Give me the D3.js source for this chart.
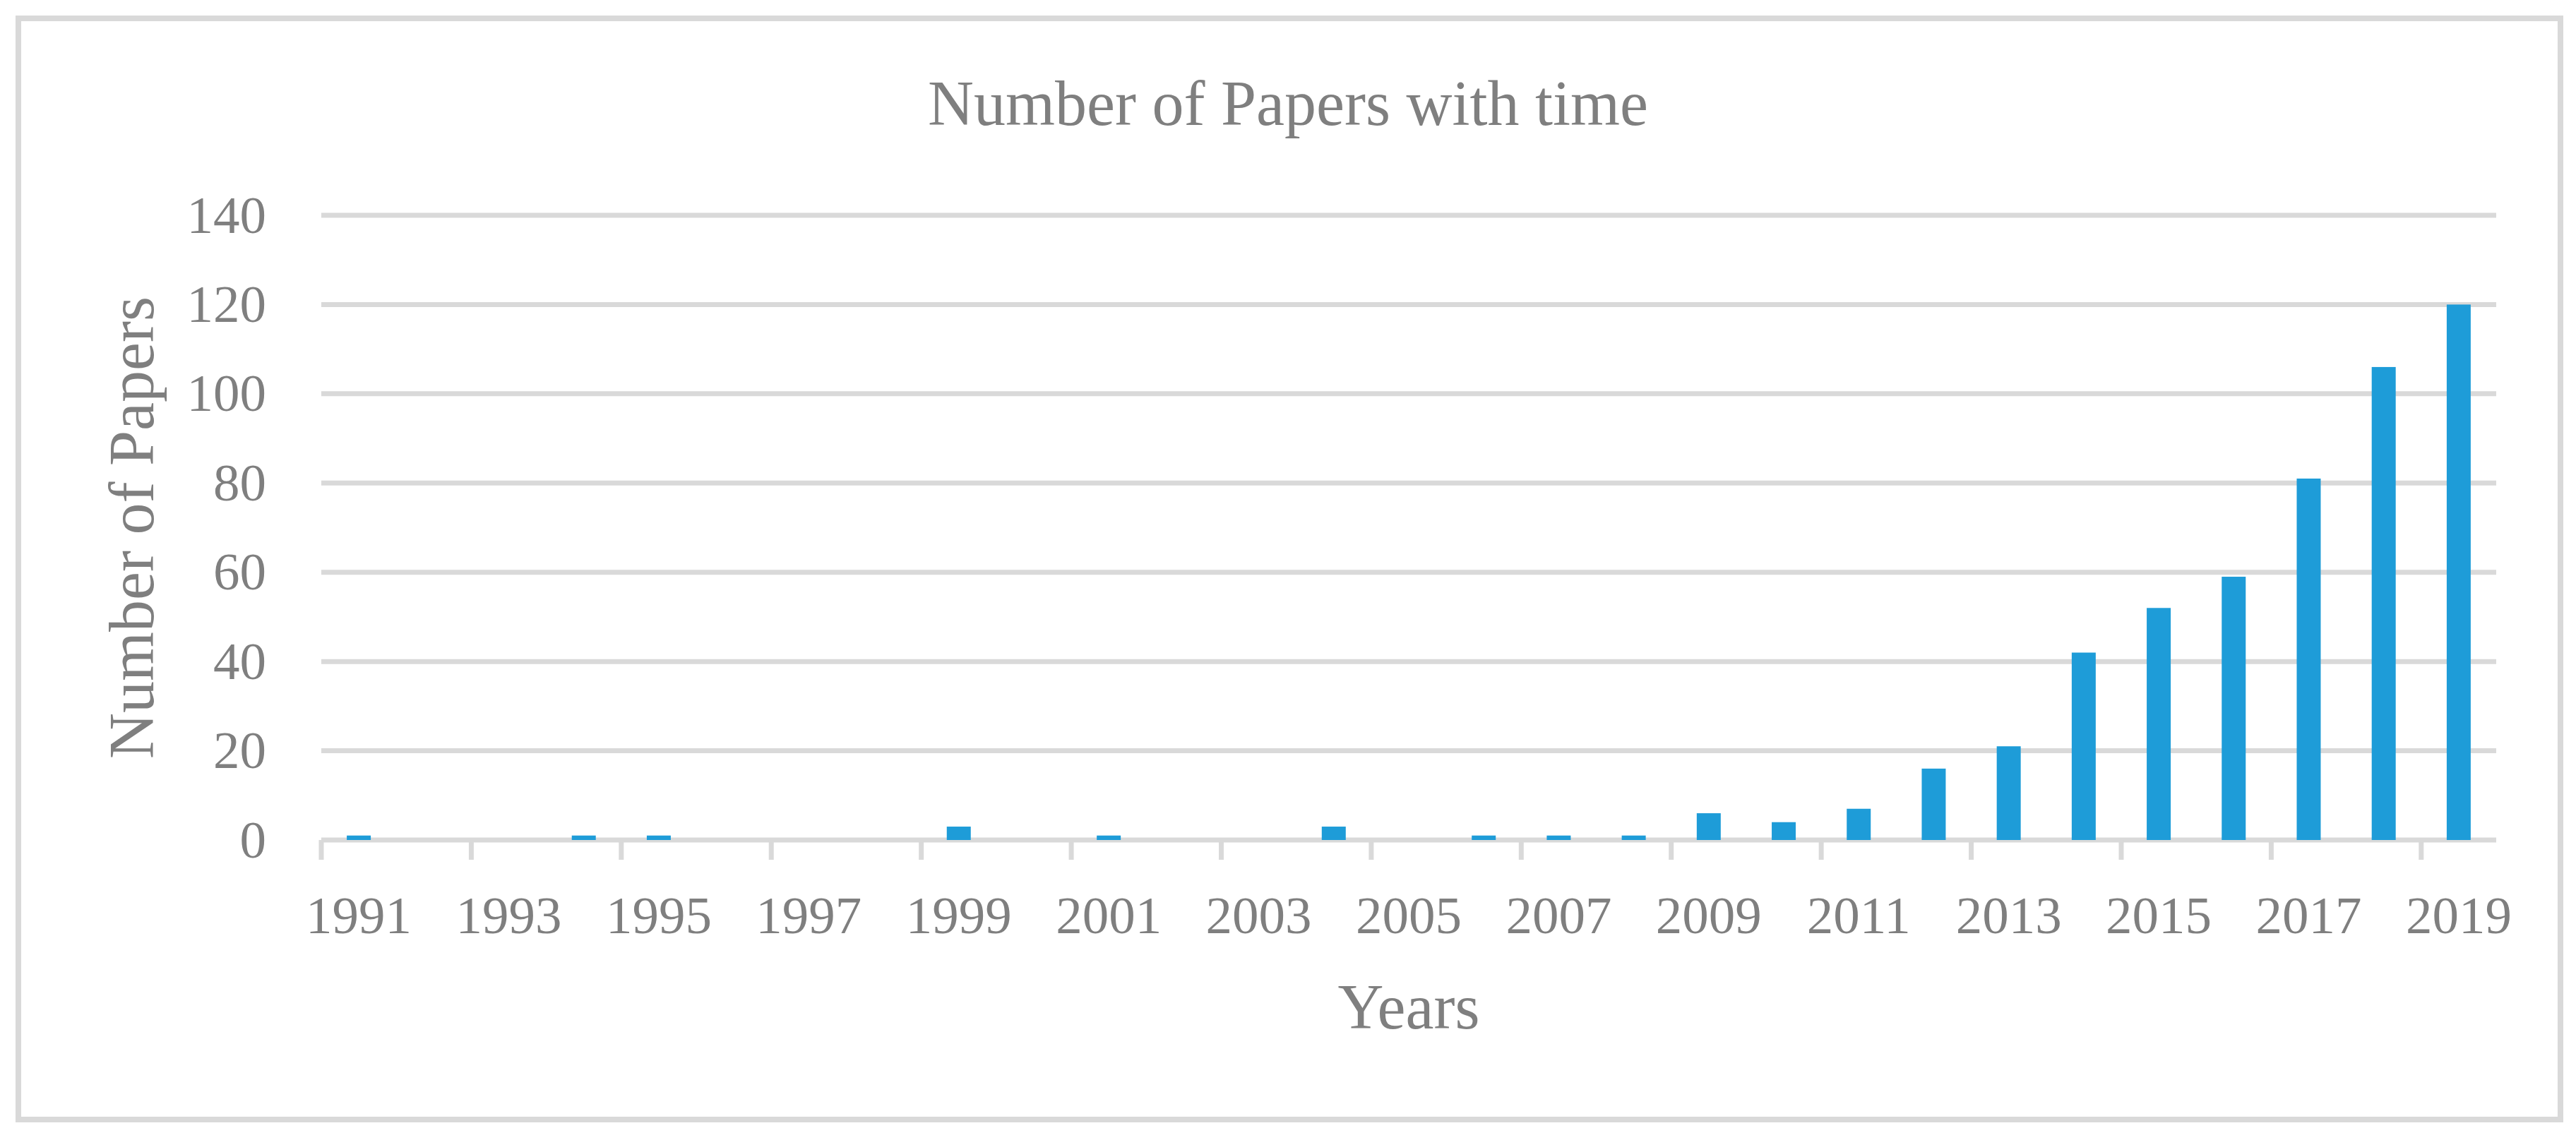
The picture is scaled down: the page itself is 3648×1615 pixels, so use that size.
<!DOCTYPE html>
<html>
<head>
<meta charset="utf-8">
<script src="https://d3js.org/d3.v7.min.js"></script>
<style>
  body { margin: 0; background: #fff; }
  text { font-family: "Liberation Serif", serif; fill: #7f7f7f; }
</style>
</head>
<body>
<svg id="chart" width="3648" height="1615"></svg>
<script>
// data
var years = [1991, 1992, 1993, 1994, 1995, 1996, 1997, 1998, 1999, 2000,
             2001, 2002, 2003, 2004, 2005, 2006, 2007, 2008, 2009, 2010,
             2011, 2012, 2013, 2014, 2015, 2016, 2017, 2018, 2019];
var papers = [1, 0, 0, 1, 1, 0, 0, 0, 3, 0,
              1, 0, 0, 3, 0, 1, 1, 1, 6, 4,
              7, 16, 21, 42, 52, 59, 81, 106, 120];
var yTicks = [0, 20, 40, 60, 80, 100, 120, 140];
var xLabels = years.filter(function(d, i) { return i % 2 === 0; });

function drawChart() {
var svg = d3.select("#chart"),
    plotLeft = 455, plotRight = 3535, plotTop = 305, plotBottom = 1190,
    grey = "#d9d9d9", blue = "#1e9cd8";

var data = years.map(function(y, i) { return {year: y, value: papers[i]}; });

// chart border
svg.append("rect")
    .attr("x", 26).attr("y", 26)
    .attr("width", 3600).attr("height", 1560)
    .attr("fill", "#fff")
    .attr("stroke", grey)
    .attr("stroke-width", 8);

var x = d3.scaleBand()
    .domain(years)
    .range([plotLeft, plotRight])
    .paddingInner(0.68)
    .paddingOuter(0.34);

// boundaries of each category, for the tick marks
var xb = d3.scaleBand().domain(years).range([plotLeft, plotRight]);

var y = d3.scaleLinear()
    .domain([0, 140])
    .range([plotBottom, plotTop]);

// gridlines
svg.append("g")
  .selectAll("line")
  .data(yTicks)
  .enter().append("line")
    .attr("x1", plotLeft)
    .attr("x2", plotRight)
    .attr("y1", function(d) { return y(d); })
    .attr("y2", function(d) { return y(d); })
    .attr("stroke", grey)
    .attr("stroke-width", 7);

// y labels
var yAxis = svg.append("g")
    .attr("transform", "translate(" + (plotLeft - 78) + ",0)")
    .call(d3.axisLeft(y).tickValues(yTicks).tickSize(0).tickPadding(0));
yAxis.select(".domain").remove();
yAxis.selectAll("text")
    .attr("font-size", 75)
    .attr("dy", "0.32em")
    .style("font-family", "Liberation Serif");

// x tick marks every two categories
svg.append("g")
  .selectAll("line")
  .data(xLabels)
  .enter().append("line")
    .attr("x1", function(d) { return xb(d); })
    .attr("x2", function(d) { return xb(d); })
    .attr("y1", plotBottom)
    .attr("y2", 1218)
    .attr("stroke", grey)
    .attr("stroke-width", 7);

// bars
svg.append("g")
  .selectAll("rect")
  .data(data)
  .enter().append("rect")
    .attr("x", function(d) { return x(d.year); })
    .attr("y", function(d) { return y(d.value); })
    .attr("width", x.bandwidth())
    .attr("height", function(d) { return y(0) - y(d.value); })
    .attr("fill", blue);

// x labels
var xAxis = svg.append("g")
    .attr("transform", "translate(0," + plotBottom + ")")
    .call(d3.axisBottom(x).tickValues(xLabels).tickSize(0).tickPadding(0));
xAxis.select(".domain").remove();
xAxis.selectAll("text")
    .attr("font-size", 75)
    .attr("y", 132)
    .attr("dy", 0)
    .style("font-family", "Liberation Serif");

// titles
svg.append("text")
    .attr("x", 1824)
    .attr("y", 177)
    .attr("text-anchor", "middle")
    .attr("font-size", 90)
    .text("Number of Papers with time");

svg.append("text")
    .attr("x", (plotLeft + plotRight) / 2)
    .attr("y", 1457)
    .attr("text-anchor", "middle")
    .attr("font-size", 90)
    .text("Years");

svg.append("text")
    .attr("transform", "translate(217," + (plotTop + plotBottom) / 2 + ") rotate(-90)")
    .attr("text-anchor", "middle")
    .attr("font-size", 90)
    .text("Number of Papers");
}
drawChart();
</script>
</body>
</html>
